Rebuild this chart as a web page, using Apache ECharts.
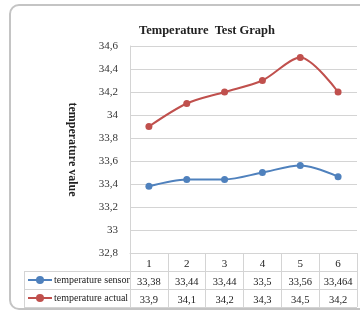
<!DOCTYPE html>
<html>
<head>
<meta charset="utf-8">
<script src="https://cdn.jsdelivr.net/npm/echarts@6/dist/echarts.min.js"></script>
<style>
  html, body { margin: 0; padding: 0; background: #fff; }
  #main { width: 360px; height: 312px; }
</style>
</head>
<body>
<div id="main"></div>
<script>
// data
var categories = ['1', '2', '3', '4', '5', '6'];
var sensorValues = [33.38, 33.44, 33.44, 33.5, 33.56, 33.464];
var actualValues = [33.9, 34.1, 34.2, 34.3, 34.5, 34.2];
var seriesNames = ['temperature sensor', 'temperature actual'];

var FONT = '"Liberation Serif", "Times New Roman", serif';
var gridColor = '#d4d4d4';

// excel style numbers: 33.38 -> 33,38
function comma(v) {
  return String(+v.toFixed(3)).replace('.', ',');
}

var chart = echarts.init(document.getElementById('main'));

chart.setOption({
  animation: false,
  color: ['#4f81bd', '#c0504d'],
  title: {
    text: 'Temperature  Test Graph',
    left: 134,
    top: 19,
    textStyle: {
      fontFamily: FONT,
      fontSize: 12.5,
      fontWeight: 'bold',
      color: '#222'
    }
  },
  legend: {
    orient: 'vertical',
    left: 27,
    top: 275,
    padding: 0,
    itemWidth: 24,
    itemHeight: 10,
    itemGap: 8,
    itemStyle: { borderWidth: 0 },
    data: seriesNames,
    textStyle: {
      fontFamily: FONT,
      fontSize: 10,
      color: '#222',
      padding: [0, 0, 0, -3]
    }
  },
  grid: {
    left: 130,
    right: 3,
    top: 46,
    bottom: 59
  },
  xAxis: {
    type: 'category',
    data: categories,
    boundaryGap: true,
    axisLine: { show: true, lineStyle: { color: gridColor } },
    axisTick: { show: true, length: 54, lineStyle: { color: gridColor } },
    axisLabel: {
      margin: 2,
      interval: 0,
      fontFamily: FONT,
      color: '#222',
      formatter: function (val, idx) {
        return '{h|' + val + '}\n{v|' + comma(sensorValues[idx]) + '}\n{v|' + comma(actualValues[idx]) + '}';
      },
      rich: {
        h: { fontFamily: FONT, fontSize: 11, lineHeight: 18, color: '#222' },
        v: { fontFamily: FONT, fontSize: 10.5, lineHeight: 18, color: '#222' }
      }
    },
    splitLine: { show: false }
  },
  yAxis: {
    type: 'value',
    min: 32.8,
    max: 34.6,
    interval: 0.2,
    name: 'temperature value',
    nameLocation: 'middle',
    nameRotate: -90,
    nameGap: 52,
    nameTextStyle: {
      fontFamily: FONT,
      fontSize: 12,
      fontWeight: 'bold',
      color: '#222'
    },
    axisLine: { show: true, lineStyle: { color: gridColor } },
    axisTick: { show: false },
    axisLabel: {
      margin: 12,
      fontFamily: FONT,
      fontSize: 11,
      color: '#333',
      formatter: function (v) { return comma(v); }
    },
    splitLine: { show: true, lineStyle: { color: gridColor } }
  },
  graphic: [
    {
      type: 'rect',
      shape: { x: 10, y: 5, width: 370, height: 304, r: 9 },
      style: { fill: 'none', stroke: '#c4c4c4', lineWidth: 2 },
      silent: true
    },
    // data table rows
    { type: 'line', shape: { x1: 24, y1: 271.5, x2: 357, y2: 271.5 }, style: { stroke: gridColor } },
    { type: 'line', shape: { x1: 24, y1: 289.5, x2: 357, y2: 289.5 }, style: { stroke: gridColor } },
    { type: 'line', shape: { x1: 24, y1: 307.5, x2: 357, y2: 307.5 }, style: { stroke: gridColor } },
    { type: 'line', shape: { x1: 24.5, y1: 271.5, x2: 24.5, y2: 307.5 }, style: { stroke: gridColor } }
  ],
  series: [
    {
      name: seriesNames[0],
      type: 'line',
      data: sensorValues,
      smooth: 0.3,
      symbol: 'circle',
      symbolSize: 7,
      lineStyle: { width: 2 }
    },
    {
      name: seriesNames[1],
      type: 'line',
      data: actualValues,
      smooth: 0.3,
      symbol: 'circle',
      symbolSize: 7,
      lineStyle: { width: 2 }
    }
  ]
});
</script>
</body>
</html>
